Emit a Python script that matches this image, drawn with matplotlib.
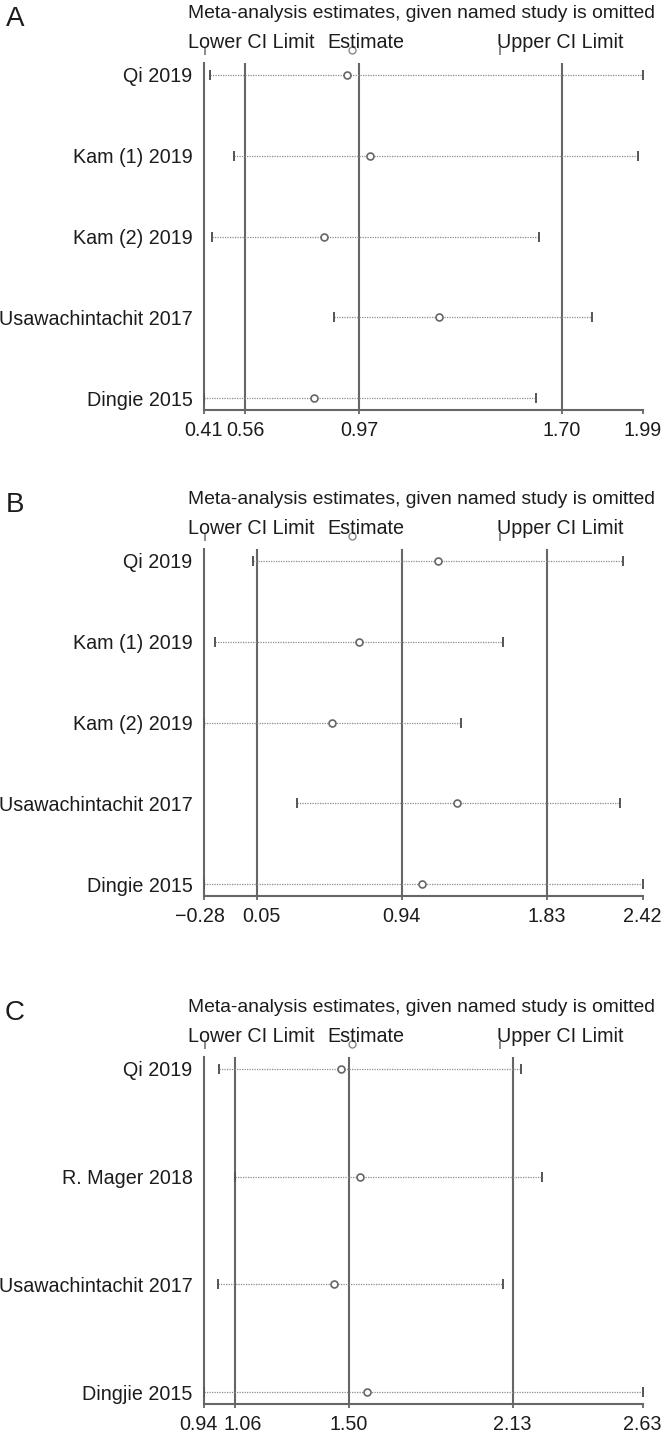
import numpy as np
import matplotlib
matplotlib.use("Agg")
import matplotlib.pyplot as plt
from matplotlib.transforms import ScaledTranslation

plt.rcParams['font.family'] = ['Liberation Sans', 'DejaVu Sans']

# ---- data ----
studiesA = ["Qi 2019", "Kam (1) 2019", "Kam (2) 2019", "Usawachintachit 2017", "Dingie 2015"]
estA = [0.927, 1.009, 0.843, 1.258, 0.807]
lowA = [0.434, 0.520, 0.439, 0.881, 0.41]
uppA = [1.99, 1.973, 1.618, 1.807, 1.606]
ticksA = [0.41, 0.56, 0.97, 1.70, 1.99]
tickLabelsA = ["0.41", "0.56", "0.97", "1.70", "1.99"]

studiesB = ["Qi 2019", "Kam (1) 2019", "Kam (2) 2019", "Usawachintachit 2017", "Dingie 2015"]
estB = [1.164, 0.676, 0.510, 1.278, 1.062]
lowB = [0.025, -0.21, -0.28, 0.296, -0.28]
uppB = [2.303, 1.562, 1.305, 2.282, 2.42]
ticksB = [-0.28, 0.05, 0.94, 1.83, 2.42]
tickLabelsB = ["\u22120.28", "0.05", "0.94", "1.83", "2.42"]

studiesC = ["Qi 2019", "R. Mager 2018", "Usawachintachit 2017", "Dingjie 2015"]
estC = [1.470, 1.544, 1.442, 1.568]
lowC = [1.000, 1.062, 0.994, 0.94]
uppC = [2.162, 2.242, 2.093, 2.63]
ticksC = [0.94, 1.06, 1.50, 2.13, 2.63]
tickLabelsC = ["0.94", "1.06", "1.50", "2.13", "2.63"]

W, H = 665, 1434
DPI = 100
fig = plt.figure(figsize=(W / DPI, H / DPI), dpi=DPI)

LINE_C = "#666666"
TXT_C = "#1c1c1c"
FS = 14.2
FS_TITLE = 13.9


def fx(px):
    return px / W


def fy(py):
    return 1 - py / H


def drawPanel(letter, topPx, studies, est, low, upp, ticks, tickLabels, nudge=(0, 0)):
    # topPx: y pixel of the title line
    axTop = topPx + 50
    axBottom = topPx + 397
    left, right = 203.5, 642.5
    ax = fig.add_axes([fx(left), fy(axBottom), fx(right - left), (axBottom - axTop) / H])

    n = len(studies)
    ypos = np.linspace(0, 1, n)
    pad = 12 / 323
    ax.set_xlim(ticks[0], ticks[-1])
    ax.set_ylim(1 + pad, -pad)

    for s in ["top", "right"]:
        ax.spines[s].set_visible(False)
    for s in ["left", "bottom"]:
        ax.spines[s].set_color(LINE_C)
        ax.spines[s].set_linewidth(1.5)

    for v in ticks[1:4]:
        ax.axvline(v, color=LINE_C, lw=1.5, zorder=1)

    ax.hlines(ypos, low, upp, colors="#8c8c8c", linestyles=(0, (1, 1)), lw=0.9, zorder=2)
    ax.plot(low, ypos, "|", color="#555555", ms=6.5, mew=1.4, zorder=3)
    ax.plot(upp, ypos, "|", color="#555555", ms=6.5, mew=1.4, zorder=3)
    ax.plot(est, ypos, "o", mfc="white", mec="#666666", ms=5, mew=1.2, zorder=4)

    ax.set_xticks(ticks)
    ax.set_xticklabels(tickLabels, fontsize=FS, color=TXT_C)
    ax.tick_params(axis="x", length=3, width=1.3, color=LINE_C, pad=5)
    # the first two labels sit close together; spread them a little
    labs = ax.get_xticklabels()
    for lab, dx in zip(labs[:2], nudge):
        lab.set_transform(lab.get_transform() + ScaledTranslation(dx / DPI, 0, fig.dpi_scale_trans))
    ax.set_yticks(ypos)
    ax.set_yticklabels(studies, fontsize=FS, color=TXT_C)
    ax.tick_params(axis="y", length=0, pad=8)

    # header
    fig.text(fx(15), fy(topPx + 6), letter, fontsize=20, color=TXT_C, ha="center", va="center")
    fig.text(fx(188), fy(topPx), "Meta-analysis estimates, given named study is omitted",
             fontsize=FS_TITLE, color=TXT_C, ha="left", va="center")
    fig.text(fx(188), fy(topPx + 29), "Lower CI Limit", fontsize=FS, color=TXT_C, ha="left", va="center")
    fig.text(fx(327), fy(topPx + 29), "Estimate", fontsize=FS, color=TXT_C, ha="left", va="center")
    fig.text(fx(497), fy(topPx + 29), "Upper CI Limit", fontsize=FS, color=TXT_C, ha="left", va="center")
    # legend symbols peeking out under the key labels
    fig.lines.append(plt.Line2D([fx(205)], [fy(topPx + 38)], marker="|", ms=6, mew=1.2,
                                color="#777777", transform=fig.transFigure))
    fig.lines.append(plt.Line2D([fx(352)], [fy(topPx + 37)], marker="o", ms=5, mew=1.0,
                                mfc="white", mec="#888888", transform=fig.transFigure))
    fig.lines.append(plt.Line2D([fx(500)], [fy(topPx + 38)], marker="|", ms=6, mew=1.2,
                                color="#777777", transform=fig.transFigure))
    return ax


drawPanel("A", 13, studiesA, estA, lowA, uppA, ticksA, tickLabelsA)
drawPanel("B", 499, studiesB, estB, lowB, uppB, ticksB, tickLabelsB, nudge=(-4, 4))
drawPanel("C", 1007, studiesC, estC, lowC, uppC, ticksC, tickLabelsC, nudge=(-5, 8))

fig.savefig("out.png", dpi=DPI)
plt.close(fig)
